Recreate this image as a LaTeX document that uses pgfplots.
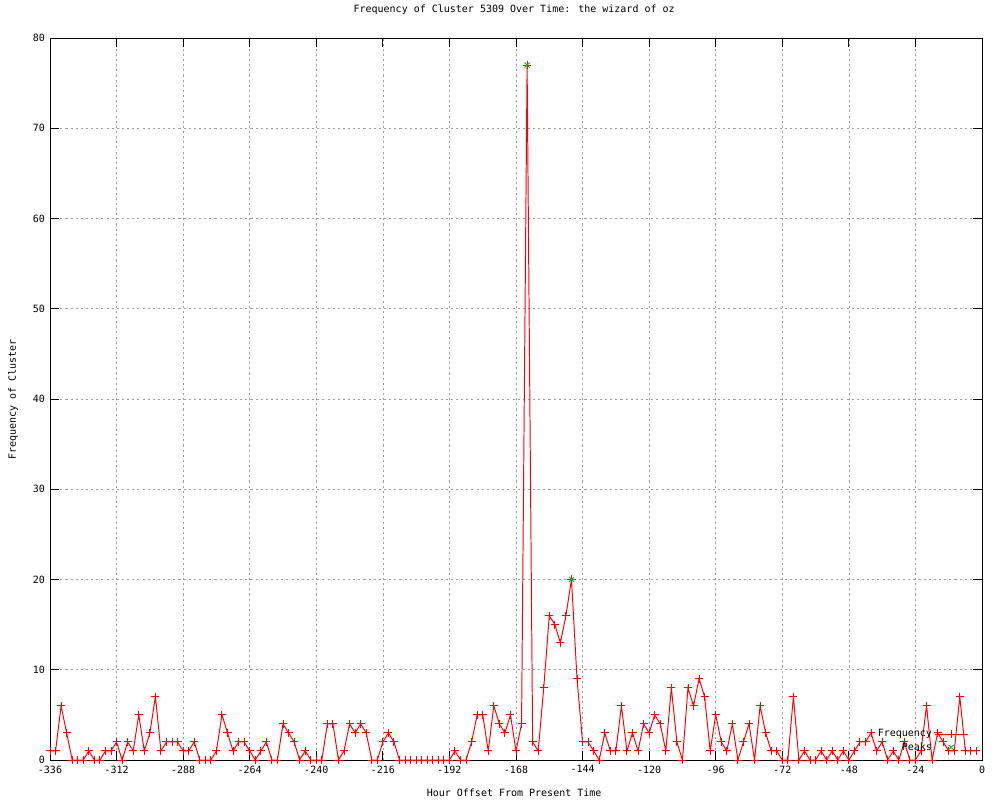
\documentclass[border=0pt]{standalone}
\usepackage{fontspec}
\setmainfont{DejaVu Sans Mono}
\usepackage{pgfplots}
\pgfplotsset{compat=1.18}
\definecolor{gpred}{RGB}{255,0,0}
\definecolor{gpgreen}{RGB}{0,192,0}
\begin{document}
\fontsize{7.2}{8.4}\selectfont
\begin{tikzpicture}
\useasboundingbox (-36pt,-28.8pt) rectangle (684pt,547.2pt);
\begin{axis}[
  at={(0pt,0pt)}, anchor=south west,
  scale only axis,
  width=671.04pt, height=519.84pt,
  xmin=-336, xmax=0, ymin=0, ymax=80,
  xtick={-336,-312,...,0},
  ytick={0,10,...,80},
  /pgf/number format/assume math mode=true,
  /pgf/number format/1000 sep={},
  tick align=inside,
  major tick length=6.5pt,
  minor tick num=0,
  grid=major,
  major grid style={gray!75, line width=0.5pt, dash pattern=on 1.5pt off 2.2pt},
  axis line style={black, line width=0.7pt},
  every tick/.style={black, line width=0.7pt},
  xticklabel style={yshift=-1.5pt},
  yticklabel style={xshift=-1pt},
  title={Frequency of Cluster 5309 Over Time: the wizard of oz},
  title style={at={(axis description cs:0.498,1.0277)}, anchor=center},
  xlabel={Hour Offset From Present Time},
  xlabel style={at={(axis description cs:0.498,-0.0457)}, anchor=center},
  ylabel={Frequency of Cluster},
  ylabel style={at={(axis description cs:-0.0397,0.499)}, anchor=center},
  legend style={at={(axis description cs:0.987,0.006)}, anchor=south east,
    draw=none, fill=none, legend plot pos=right, legend cell align=right,
    row sep=0.2pt, inner sep=1pt,
    nodes={inner sep=1.5pt}},
]
\addplot[color=gpred, line width=0.7pt, mark=+, mark size=2.9pt, mark options={solid},
  legend image code/.code={\draw[mark repeat=2,mark phase=2] plot coordinates {(0cm,0cm) (0.42cm,0cm) (0.84cm,0cm)};}]
  table[row sep=\\] {
x y \\
-336 1 \\ -334 1 \\ -332 6 \\ -330 3 \\ -328 0 \\ -326 0 \\ -324 0 \\ -322 1 \\
-320 0 \\ -318 0 \\ -316 1 \\ -314 1 \\ -312 2 \\ -310 0 \\ -308 2 \\ -306 1 \\
-304 5 \\ -302 1 \\ -300 3 \\ -298 7 \\ -296 1 \\ -294 2 \\ -292 2 \\ -290 2 \\
-288 1 \\ -286 1 \\ -284 2 \\ -282 0 \\ -280 0 \\ -278 0 \\ -276 1 \\ -274 5 \\
-272 3 \\ -270 1 \\ -268 2 \\ -266 2 \\ -264 1 \\ -262 0 \\ -260 1 \\ -258 2 \\
-256 0 \\ -254 0 \\ -252 4 \\ -250 3 \\ -248 2 \\ -246 0 \\ -244 1 \\ -242 0 \\
-240 0 \\ -238 0 \\ -236 4 \\ -234 4 \\ -232 0 \\ -230 1 \\ -228 4 \\ -226 3 \\
-224 4 \\ -222 3 \\ -220 0 \\ -218 0 \\ -216 2 \\ -214 3 \\ -212 2 \\ -210 0 \\
-208 0 \\ -206 0 \\ -204 0 \\ -202 0 \\ -200 0 \\ -198 0 \\ -196 0 \\ -194 0 \\
-192 0 \\ -190 1 \\ -188 0 \\ -186 0 \\ -184 2 \\ -182 5 \\ -180 5 \\ -178 1 \\
-176 6 \\ -174 4 \\ -172 3 \\ -170 5 \\ -168 1 \\ -166 4 \\ -164 77 \\ -162 2 \\
-160 1 \\ -158 8 \\ -156 16 \\ -154 15 \\ -152 13 \\ -150 16 \\ -148 20 \\ -146 9 \\
-144 2 \\ -142 2 \\ -140 1 \\ -138 0 \\ -136 3 \\ -134 1 \\ -132 1 \\ -130 6 \\
-128 1 \\ -126 3 \\ -124 1 \\ -122 4 \\ -120 3 \\ -118 5 \\ -116 4 \\ -114 1 \\
-112 8 \\ -110 2 \\ -108 0 \\ -106 8 \\ -104 6 \\ -102 9 \\ -100 7 \\ -98 1 \\
-96 5 \\ -94 2 \\ -92 1 \\ -90 4 \\ -88 0 \\ -86 2 \\ -84 4 \\ -82 0 \\
-80 6 \\ -78 3 \\ -76 1 \\ -74 1 \\ -72 0 \\ -70 0 \\ -68 7 \\ -66 0 \\
-64 1 \\ -62 0 \\ -60 0 \\ -58 1 \\ -56 0 \\ -54 1 \\ -52 0 \\ -50 1 \\
-48 0 \\ -46 1 \\ -44 2 \\ -42 2 \\ -40 3 \\ -38 1 \\ -36 2 \\ -34 0 \\
-32 1 \\ -30 0 \\ -28 2 \\ -26 0 \\ -24 0 \\ -22 1 \\ -20 6 \\ -18 0 \\
-16 3 \\ -14 2 \\ -12 1 \\ -10 1 \\ -8 7 \\ -6 1 \\ -4 1 \\ -2 1 \\
};
\addlegendentry{Frequency}
\addplot[only marks, color=gpgreen, mark=x, mark size=2.6pt, line width=0.6pt,
  legend image code/.code={\draw plot coordinates {(0.42cm,0cm)};}]
  table[row sep=\\] {
x y \\
-164 77 \\
-148 20 \\
};
\addlegendentry{Peaks}
\end{axis}
\end{tikzpicture}
\end{document}
